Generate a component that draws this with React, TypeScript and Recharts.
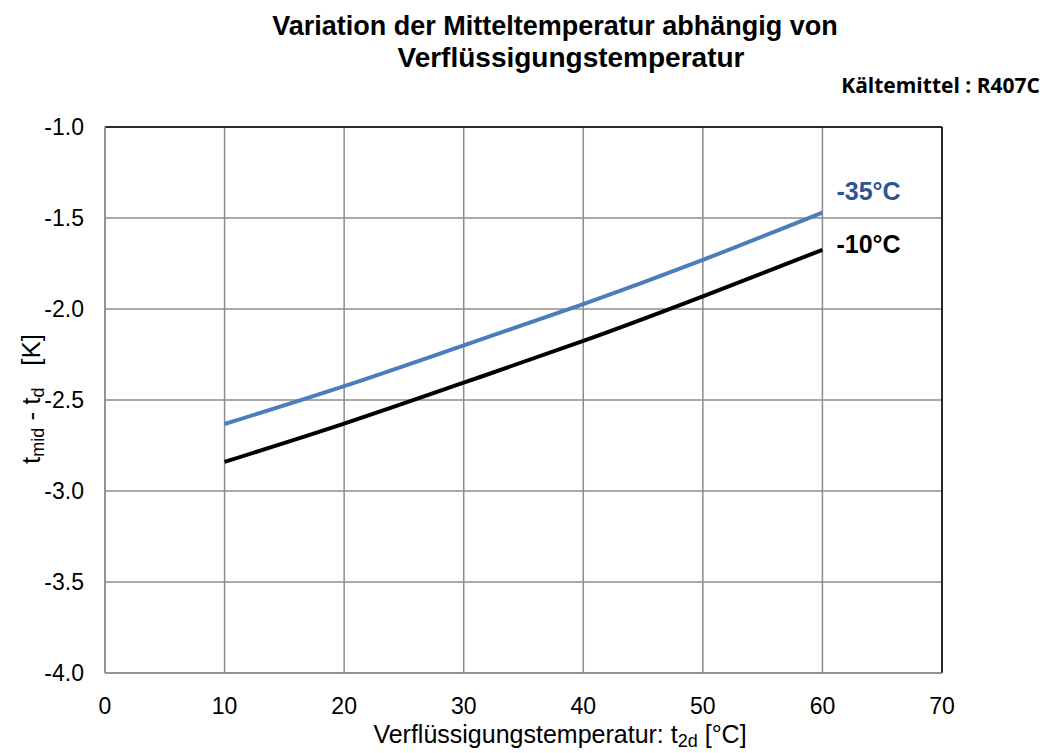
import React from 'react'
import { LineChart, Line, XAxis, YAxis, CartesianGrid, ReferenceLine } from 'recharts'

// Verflüssigungstemperatur t2d [°C]
const condTemps = [10, 20, 30, 40, 50, 60]
// t_mid - t_d [K] für Verdampfungstemperatur -35°C und -10°C
const evapMinus35 = [-2.632, -2.424, -2.2, -1.973, -1.73, -1.47]
const evapMinus10 = [-2.84, -2.63, -2.405, -2.175, -1.93, -1.675]

const xTicks = [0, 10, 20, 30, 40, 50, 60, 70]
const yTicks = [-4.0, -3.5, -3.0, -2.5, -2.0, -1.5, -1.0]

const seriesLabels = ['-35°C', '-10°C']

const data = condTemps.map((t, i) => ({ t, a: evapMinus35[i], b: evapMinus10[i] }))

const FONT = '"Liberation Sans", Arial, sans-serif'

const endLabel = (text: string, color: string, dy: number) => (props: any) => {
  const { x, y, index } = props
  if (index !== data.length - 1) return null
  return (
    <text x={x + 14} y={y + dy} fill={color} fontSize={25} fontWeight="bold" fontFamily={FONT}>
      {text}
    </text>
  )
}

const Titles = () => (
  <g fontFamily={FONT} fill="#000">
    <text x={555} y={35} textAnchor="middle" fontSize={27} fontWeight="bold">
      Variation der Mitteltemperatur abhängig von
    </text>
    <text x={571} y={67} textAnchor="middle" fontSize={28} fontWeight="bold">
      Verflüssigungstemperatur
    </text>
    <text
      x={1040}
      y={93}
      textAnchor="end"
      fontSize={21}
      fontWeight="bold"
      fontFamily='"Open Sans", sans-serif'
    >
      Kältemittel : R407C
    </text>
  </g>
)

const YLabel = () => (
  <text
    transform="translate(40, 399) rotate(-90)"
    textAnchor="middle"
    fontSize={26}
    fontFamily={FONT}
    fill="#000"
  >
    <tspan>t</tspan>
    <tspan fontSize={18} dy={4}>mid</tspan>
    <tspan dy={-4}> - t</tspan>
    <tspan fontSize={18} dy={4}>d</tspan>
    <tspan dy={-4}>{'\u00a0\u00a0\u00a0[K]'}</tspan>
  </text>
)

const XLabel = () => (
  <text x={560} y={743} textAnchor="middle" fontSize={25} fontFamily={FONT} fill="#000">
    <tspan>Verflüssigungstemperatur: t</tspan>
    <tspan fontSize={18} dy={4}>2d</tspan>
    <tspan dy={-4}> [°C]</tspan>
  </text>
)

const App: React.FC = () => {
  return (
    <div style={{ position: 'absolute', left: 0, top: 0, width: 1047, height: 753, background: '#fff' }}>
      <LineChart width={1047} height={753} data={data} margin={{ top: 127, right: 105, bottom: 20, left: 45 }}>
        <CartesianGrid stroke="#8c8c8c" strokeWidth={1.5} />
        <XAxis
          dataKey="t"
          type="number"
          domain={[0, 70]}
          ticks={xTicks}
          height={60}
          tickLine={false}
          axisLine={{ stroke: '#8c8c8c', strokeWidth: 1.5 }}
          tick={{ fill: '#000', fontSize: 23, fontFamily: FONT }}
          tickMargin={19}
        />
        <YAxis
          type="number"
          domain={[-4, -1]}
          ticks={yTicks}
          width={60}
          tickLine={false}
          axisLine={{ stroke: '#8c8c8c', strokeWidth: 1.5 }}
          tick={{ fill: '#000', fontSize: 23, fontFamily: FONT }}
          tickFormatter={(v: number) => v.toFixed(1)}
          tickMargin={15}
        />
        <ReferenceLine y={-1} stroke="#000" strokeWidth={1.5} />
        <ReferenceLine x={70} stroke="#000" strokeWidth={1.5} />
        <Line
          dataKey="a"
          type="natural"
          stroke="#4a7ebb"
          strokeWidth={4}
          dot={false}
          isAnimationActive={false}
          label={endLabel(seriesLabels[0], '#2f5597', -13)}
        />
        <Line
          dataKey="b"
          type="natural"
          stroke="#000"
          strokeWidth={4}
          dot={false}
          isAnimationActive={false}
          label={endLabel(seriesLabels[1], '#000', 3)}
        />
        <Titles />
        <YLabel />
        <XLabel />
      </LineChart>
    </div>
  )
}

export default App
